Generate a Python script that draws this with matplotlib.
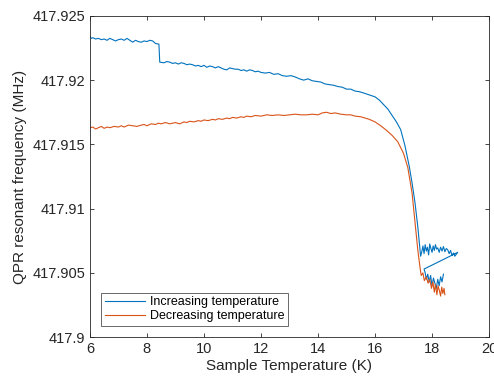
import numpy as np
import matplotlib.pyplot as plt

plt.rcParams['font.family'] = ['Liberation Sans', 'DejaVu Sans']

# increasing temperature sweep: x in K, y offset in kHz above 417.9 MHz
inc_T = [6.0, 6.05, 6.1, 6.2, 6.3, 6.4, 6.5, 6.6, 6.7, 6.8, 6.9, 7.0, 7.1, 7.2, 7.3,
         7.4, 7.5, 7.6, 7.7, 7.8, 7.9, 8.0, 8.1, 8.2, 8.3, 8.42,
         8.45, 8.6, 8.7, 8.8, 8.9, 9.0, 9.1, 9.2, 9.3, 9.4, 9.5, 9.6, 9.7, 9.8, 9.9,
         10.0, 10.1, 10.2, 10.3, 10.4, 10.5, 10.6, 10.7, 10.8, 10.9, 11.0, 11.1, 11.2,
         11.3, 11.4, 11.5, 11.6, 11.7, 11.8, 11.9, 12.0, 12.15, 12.3, 12.45, 12.6,
         12.75, 12.9, 13.05, 13.2, 13.35, 13.5, 13.65, 13.8, 13.95, 14.1, 14.25, 14.4,
         14.55, 14.7, 14.85, 15.0, 15.15, 15.3, 15.45, 15.6, 15.8, 16.0, 16.15, 16.3,
         16.45, 16.6, 16.75, 16.9, 17.05, 17.2, 17.3, 17.4, 17.5, 17.6,
         17.64, 17.68, 17.72, 17.76, 17.8, 17.84, 17.88, 17.92, 17.96, 18.0, 18.04,
         18.08, 18.12, 18.16, 18.2, 18.25, 18.3, 18.35, 18.4, 18.45, 18.5, 18.55, 18.6,
         18.65, 18.7, 18.75, 18.8, 18.85, 18.9,
         17.72, 17.76, 17.8, 17.85, 17.9, 17.95, 18.0, 18.05, 18.1, 18.15, 18.2, 18.25,
         18.3, 18.35, 18.4]
inc_df = [23.4, 23.25, 23.3, 23.2, 23.25, 23.15, 23.2, 23.1, 23.25, 23.15, 23.05, 23.15,
          23.2, 23.1, 23.25, 23.1, 22.95, 23.1, 23.0, 22.95, 23.05, 23.0, 23.1, 23.05,
          22.85, 22.8,
          21.4, 21.35, 21.45, 21.4, 21.3, 21.35, 21.25, 21.35, 21.3, 21.2, 21.25, 21.2,
          21.1, 21.15, 21.05, 21.15, 21.0, 21.1, 21.05, 20.95, 21.05, 20.95, 20.85,
          20.8, 20.95, 20.9, 20.85, 20.85, 20.75, 20.8, 20.7, 20.8, 20.75, 20.65, 20.7,
          20.6, 20.55, 20.6, 20.45, 20.5, 20.35, 20.3, 20.35, 20.25, 20.1, 20.0, 20.1,
          19.95, 19.9, 19.85, 19.7, 19.65, 19.6, 19.5, 19.45, 19.3, 19.3, 19.15, 19.1,
          19.0, 18.85, 18.7, 18.45, 18.1, 17.75, 17.25, 16.75, 16.15, 14.9, 13.3, 12.0,
          10.5, 8.6, 6.3,
          6.64, 7.1, 6.5, 7.2, 6.7, 7.0, 6.4, 7.25, 6.9, 6.6, 7.1, 6.75, 7.2, 6.85, 6.95,
          6.6, 7.0, 6.7, 7.05, 6.65, 6.9, 6.8, 6.5, 6.75, 6.35, 6.55, 6.3, 6.45, 6.6,
          5.3, 5.0, 4.5, 4.9, 4.3, 4.8, 4.0, 4.6, 4.2, 3.8, 4.5, 4.0, 4.7, 4.3, 4.9]

# decreasing temperature sweep
dec_T = [6.0, 6.1, 6.2, 6.3, 6.4, 6.5, 6.6, 6.7, 6.85, 7.0, 7.1, 7.2, 7.35, 7.5, 7.65,
         7.8, 7.9, 8.0, 8.15, 8.3, 8.4, 8.5, 8.65, 8.8, 8.9, 9.0, 9.15, 9.3, 9.4, 9.5,
         9.65, 9.8, 9.9, 10.0, 10.15, 10.3, 10.4, 10.5, 10.65, 10.8, 10.9, 11.0, 11.15,
         11.3, 11.4, 11.5, 11.65, 11.8, 12.0, 12.2, 12.4, 12.6, 12.8, 13.0, 13.2, 13.4,
         13.6, 13.8, 14.0, 14.15, 14.3, 14.45, 14.6, 14.8, 15.0, 15.15, 15.3, 15.5,
         15.65, 15.8, 16.0, 16.2, 16.4, 16.6, 16.8, 17.0, 17.15, 17.3, 17.4, 17.5, 17.58,
         17.62, 17.68, 17.73, 17.8, 17.86, 17.92, 17.98, 18.03, 18.08, 18.12, 18.17,
         18.21, 18.26, 18.3, 18.34, 18.38, 18.42, 18.45]
dec_df = [16.3, 16.35, 16.2, 16.3, 16.4, 16.25, 16.35, 16.3, 16.4, 16.35, 16.45, 16.35,
          16.5, 16.45, 16.4, 16.5, 16.55, 16.45, 16.6, 16.55, 16.65, 16.6, 16.7, 16.6,
          16.65, 16.7, 16.6, 16.75, 16.7, 16.8, 16.75, 16.85, 16.8, 16.9, 16.85, 16.95,
          16.9, 17.0, 16.95, 17.05, 17.0, 17.1, 17.05, 17.15, 17.1, 17.2, 17.15, 17.25,
          17.2, 17.3, 17.25, 17.3, 17.25, 17.3, 17.35, 17.3, 17.3, 17.35, 17.3, 17.45,
          17.5, 17.4, 17.45, 17.35, 17.3, 17.3, 17.2, 17.15, 17.05, 16.95, 16.75, 16.45,
          16.1, 15.7, 15.2, 14.3, 13.2, 11.2, 9.0, 6.8, 5.4,
          4.8, 5.0, 4.4, 4.7, 4.2, 4.5, 3.8, 4.3, 3.5, 4.1, 3.3, 4.0, 3.6, 3.2, 3.9, 3.4,
          3.8, 3.3]

inc_f = 417.9 + np.array(inc_df) / 1000
dec_f = 417.9 + np.array(dec_df) / 1000

fig = plt.figure(figsize=(4.94, 3.78), dpi=100)
ax = fig.add_axes([0.182, 0.108, 0.808, 0.85])

ax.plot(inc_T, inc_f, color="#0072BD", lw=0.8, label="Increasing temperature")
ax.plot(dec_T, dec_f, color="#D95319", lw=0.8, label="Decreasing temperature")

ax.set_xlim(6, 20)
ax.set_ylim(417.9, 417.925)
ax.set_xticks(np.arange(6, 21, 2))
ax.set_yticks(np.arange(417.9, 417.9251, 0.005))
ax.set_yticklabels(["417.9", "417.905", "417.91", "417.915", "417.92", "417.925"])
ax.tick_params(direction="in", top=True, right=True, length=3, width=0.6,
               labelsize=10.5, colors="#262626")
for s in ax.spines.values():
    s.set_linewidth(0.6)
    s.set_color("#262626")

ax.set_xlabel("Sample Temperature (K)", fontsize=11, color="#262626", labelpad=2)
ax.set_ylabel("QPR resonant frequency (MHz)", fontsize=11, color="#262626", labelpad=4)

leg = ax.legend(loc="lower left", fontsize=9, frameon=True, fancybox=False,
                handlelength=3.2, borderaxespad=0.9, handletextpad=0.4,
                labelspacing=0.15, borderpad=0.3)
leg.get_frame().set_edgecolor("#262626")
leg.get_frame().set_linewidth(0.6)

plt.savefig("out.png", dpi=100)
